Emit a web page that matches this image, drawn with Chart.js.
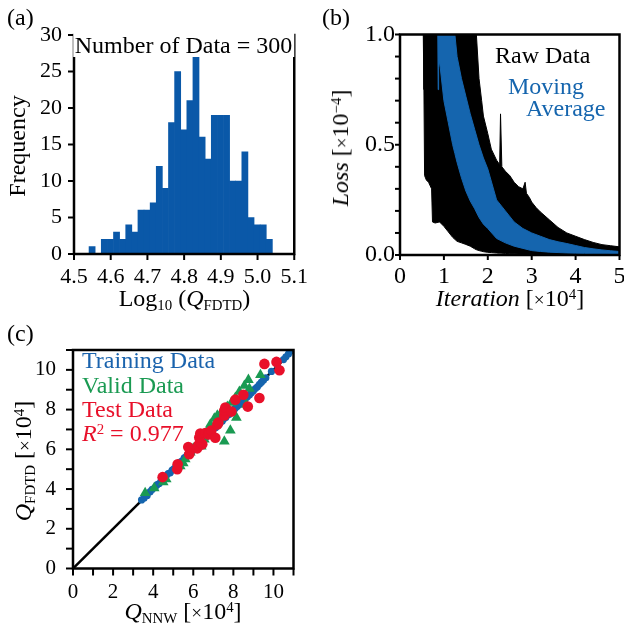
<!DOCTYPE html>
<html>
<head>
<meta charset="utf-8">
<script src="https://cdn.jsdelivr.net/npm/chart.js@4.4.1/dist/chart.umd.min.js"></script>
<style>
html, body { margin: 0; padding: 0; background: #fff; overflow: hidden; }
body { width: 624px; height: 632px; position: relative; }
.box { position: absolute; }
.box canvas { display: block; }
.t { position: absolute; font-family: 'Liberation Serif', 'Times New Roman', serif; font-size: 24px;
     line-height: 1; white-space: nowrap; color: #000; pointer-events: none; }
.c { transform: translateX(-50%); }
.r { transform: translate(-50%, -50%) rotate(-90deg); }
.sub { font-size: 0.62em; position: relative; top: 0.28em; }
.sup { font-size: 0.62em; position: relative; top: -0.5em; }
.x { font-size: 0.8em; }
</style>
</head>
<body>
<div class="box" style="left:0;top:0"><canvas id="histChart" width="312" height="300"></canvas></div>
<div class="box" style="left:312px;top:0"><canvas id="lossChart" width="320" height="300"></canvas></div>
<div class="box" style="left:0;top:310px"><canvas id="scatterChart" width="320" height="322"></canvas></div>

<div class="t" style="left:7px;top:5px">(a)</div>
<div class="t" style="left:322px;top:5px">(b)</div>
<div class="t" style="left:7px;top:321px">(c)</div>

<div class="t c" style="left:183.5px;top:33px;background:#fff;padding:0 2px">Number of Data = 300</div>
<div class="t r" style="left:17px;top:146px">Frequency</div>
<div class="t c" style="left:184.5px;top:286px">Log<span class="sub">10</span> (<i>Q</i><span class="sub">FDTD</span>)</div>

<div class="t" style="left:495px;top:43px">Raw Data</div>
<div class="t" style="left:508px;top:74px;color:#1565ae">Moving</div>
<div class="t" style="left:526px;top:96px;color:#1565ae">Average</div>
<div class="t r" style="left:339.5px;top:148px"><i>Loss</i> [<span class="x">×</span>10<span class="sup">−4</span>]</div>
<div class="t c" style="left:510px;top:286px"><i>Iteration</i> [<span class="x">×</span>10<span class="sup">4</span>]</div>

<div class="t" style="left:82px;top:348px;color:#1a63ad">Training Data</div>
<div class="t" style="left:82px;top:373px;color:#1a9a52">Valid Data</div>
<div class="t" style="left:82px;top:396.5px;color:#e8102a">Test Data</div>
<div class="t" style="left:82px;top:421px;color:#e8102a"><i>R</i><span class="sup">2</span> = 0.977</div>
<div class="t r" style="left:23px;top:461px"><i>Q</i><span class="sub">FDTD</span> [<span class="x">×</span>10<span class="sup">4</span>]</div>
<div class="t c" style="left:183px;top:599px"><i>Q</i><span class="sub">NNW</span> [<span class="x">×</span>10<span class="sup">4</span>]</div>

<script>
// (a) histogram of log10(Q_FDTD), 30 bins
const binCenters = [4.5493, 4.5659, 4.5826, 4.5992, 4.6159, 4.6325, 4.6492, 4.6658, 4.6825, 4.6991,
                    4.7158, 4.7324, 4.7491, 4.7657, 4.7824, 4.7990, 4.8157, 4.8323, 4.8490, 4.8656,
                    4.8823, 4.8989, 4.9156, 4.9322, 4.9489, 4.9655, 4.9822, 4.9988, 5.0155, 5.0321];
const binCounts = [1, 0, 2, 2, 3, 2, 4, 3, 6, 6,
                   7, 12, 9, 18, 25, 17, 21, 27, 16, 13,
                   19, 19, 19, 10, 10, 14, 5, 4, 4, 2];

// (b) loss vs iteration [x1e4], envelopes of the raw and moving-average traces [x1e-4]
const iterRaw = [0.53, 0.545, 0.56, 0.60, 0.65, 0.72, 0.74, 0.80, 0.90, 1.00, 1.10, 1.20, 1.30, 1.40, 1.50, 1.60, 1.70, 1.74,
                 1.80, 1.86, 1.90, 2.00, 2.08, 2.20, 2.27, 2.29, 2.32, 2.40, 2.50, 2.60, 2.70, 2.80, 2.85, 2.88, 2.95,
                 3.00, 3.10, 3.20, 3.40, 3.60, 3.80, 4.00, 4.20, 4.40, 4.60, 4.80, 5.00];
const rawHigh = [1, 1, 1, 1, 1, 1, 1, 1, 1, 1, 1, 1, 1, 1, 1, 1, 1, 1,
                 0.80, 0.70, 0.63, 0.55, 0.48, 0.43, 0.41, 0.64, 0.40, 0.38, 0.36, 0.33, 0.31, 0.30, 0.33, 0.28, 0.26,
                 0.24, 0.215, 0.195, 0.16, 0.125, 0.10, 0.085, 0.07, 0.057, 0.047, 0.042, 0.037];
const rawLow = [1, 0.75, 0.36, 0.34, 0.33, 0.30, 0.15, 0.145, 0.15, 0.13, 0.105, 0.08, 0.062, 0.055, 0.048, 0.04, 0.028, 0.024,
                0.02, 0.017, 0.015, 0.012, 0.011, 0.009, 0.008, 0.008, 0.008, 0.007, 0.006, 0.006, 0.005, 0.005, 0.005, 0.005, 0.005,
                0.004, 0.004, 0.004, 0.004, 0.003, 0.003, 0.003, 0.003, 0.003, 0.003, 0.003, 0.003];
const iterAvg = [0.86, 0.87, 0.88, 0.90, 1.00, 1.10, 1.20, 1.25, 1.30, 1.40, 1.50, 1.60, 1.70, 1.80, 1.90, 2.00,
                 2.20, 2.40, 2.60, 2.80, 3.00, 3.20, 3.40, 3.60, 3.80, 4.00, 4.20, 4.40, 4.60, 4.80, 5.00];
const avgHigh = [1, 1, 1, 1, 1, 1, 1, 1, 0.90, 0.80, 0.72, 0.64, 0.57, 0.50, 0.44, 0.39,
                 0.25, 0.20, 0.15, 0.12, 0.10, 0.085, 0.07, 0.06, 0.052, 0.043, 0.034, 0.028, 0.023, 0.019, 0.016];
const avgLow = [1, 0.75, 0.85, 0.88, 0.70, 0.60, 0.50, 0.46, 0.42, 0.35, 0.29, 0.245, 0.21, 0.17, 0.14, 0.12,
                0.075, 0.055, 0.04, 0.03, 0.02, 0.016, 0.013, 0.011, 0.009, 0.008, 0.007, 0.006, 0.006, 0.005, 0.005];

// (c) Q_NNW vs Q_FDTD [x1e4]
const trainingPoints = [[3.42, 3.45], [3.55, 3.55], [3.7, 3.68], [3.85, 3.87], [3.95, 3.98], [4.1, 4.08], [4.2, 4.22],
  [4.3, 4.28], [4.4, 4.42], [4.55, 4.52], [4.65, 4.66], [4.75, 4.78], [4.85, 4.82], [4.95, 4.96], [5.05, 5.03],
  [5.15, 5.17], [5.25, 5.22], [5.35, 5.36], [5.45, 5.42], [5.55, 5.57], [5.62, 5.6], [5.7, 5.72], [5.8, 5.78],
  [5.88, 5.9], [5.95, 5.93], [6.05, 6.07], [6.12, 6.1], [6.2, 6.22], [6.3, 6.27], [6.38, 6.4], [6.45, 6.43],
  [6.55, 6.56], [6.62, 6.6], [6.7, 6.72], [6.8, 6.77], [6.88, 6.9], [6.95, 6.93], [7.05, 7.06], [7.12, 7.1],
  [7.2, 7.22], [7.3, 7.27], [7.38, 7.4], [7.45, 7.43], [7.55, 7.56], [7.62, 7.6], [7.7, 7.72], [7.8, 7.77],
  [7.88, 7.86], [7.95, 7.93], [8.05, 8.02], [8.12, 8.1], [8.2, 8.17], [8.3, 8.26], [8.38, 8.35], [8.45, 8.4],
  [8.55, 8.5], [8.62, 8.58], [8.7, 8.65], [8.8, 8.74], [8.9, 8.85], [9.0, 8.95], [9.1, 9.06], [9.2, 9.15],
  [9.3, 9.27], [9.4, 9.38], [9.5, 9.48], [9.62, 9.6], [9.9, 9.92], [10.2, 10.22], [10.5, 10.52],
  [10.62, 10.66], [10.75, 10.8], [10.88, 10.95]];
const validPoints = [[3.6, 3.8], [4.05, 4.05], [4.5, 4.35], [4.65, 4.5], [5.35, 5.15], [5.5, 5.3], [5.6, 5.5],
  [5.85, 5.85], [6.0, 6.05], [6.2, 6.25], [6.4, 6.15], [6.55, 6.5], [6.7, 6.9], [6.85, 7.25], [7.05, 7.55],
  [7.2, 7.7], [7.3, 7.5], [7.45, 7.95], [7.55, 6.4], [7.7, 8.15], [7.85, 6.95], [7.9, 8.35], [8.1, 8.6],
  [8.15, 7.6], [8.3, 8.9], [8.55, 9.2], [8.65, 8.25], [8.75, 9.5], [8.8, 9.05], [9.35, 9.75]];
const testPoints = [[4.47, 4.6], [5.2, 5.0], [5.22, 5.25], [5.8, 5.75], [5.85, 5.95], [5.75, 6.12], [6.2, 6.05],
  [6.25, 6.2], [6.45, 6.25], [6.35, 6.35], [6.3, 6.6], [6.35, 6.8], [6.6, 6.82], [6.75, 6.75], [6.8, 6.85],
  [6.9, 6.95], [7.1, 6.58], [7.2, 7.25], [7.25, 7.35], [7.55, 7.7], [7.55, 7.95], [7.6, 8.1], [7.9, 7.9],
  [8.1, 8.5], [8.5, 8.75], [8.72, 8.15], [9.3, 8.58], [9.55, 10.3], [10.15, 10.4], [10.3, 9.98]];
const diagonal = [[0, 0], [11, 11]];

const serif = "'Liberation Serif', 'Times New Roman', serif";

// box round the plot area plus outward tick marks ([x, y] lengths per canvas)
const tickLen = { histChart: [6, 6], lossChart: [5, 5], scatterChart: [7, 7] };
const framePlugin = {
  id: 'frame',
  afterDraw(chart) {
    const ctx = chart.ctx;
    const a = chart.chartArea;
    const len = tickLen[chart.canvas.id];
    ctx.save();
    ctx.strokeStyle = '#000';
    ctx.lineWidth = 2;
    ctx.lineCap = 'butt';
    for (const key of ['x', 'y']) {
      const s = chart.scales[key];
      for (const t of s.ticks) {
        const p = s.getPixelForValue(t.value);
        ctx.beginPath();
        if (key === 'x') {
          ctx.moveTo(p, a.bottom);
          ctx.lineTo(p, a.bottom + len[0]);
        } else {
          ctx.moveTo(a.left, p);
          ctx.lineTo(a.left - len[1], p);
        }
        ctx.stroke();
      }
    }
    ctx.lineWidth = 2.5;
    ctx.strokeRect(a.left, a.top, a.right - a.left, a.bottom - a.top);
    ctx.restore();
  }
};

function axis(opts) {
  return {
    type: 'linear',
    min: opts.min,
    max: opts.max,
    offset: false,
    border: { display: false },
    grid: { display: false, drawOnChartArea: false, drawTicks: true, tickLength: opts.tick },
    ticks: {
      stepSize: opts.step,
      autoSkip: false,
      maxRotation: 0,
      color: '#000',
      padding: opts.pad,
      font: { family: serif, size: opts.size },
      callback: opts.label
    },
    afterFit: opts.fit
  };
}

const quiet = { legend: { display: false }, tooltip: { enabled: false } };

new Chart(document.getElementById('histChart'), {
  type: 'bar',
  data: {
    datasets: [{
      data: binCenters.map((x, i) => ({ x: x, y: binCounts[i] })),
      backgroundColor: '#0a58a8',
      borderWidth: 0,
      barPercentage: 1,
      categoryPercentage: 1
    }]
  },
  options: {
    responsive: false,
    animation: false,
    plugins: quiet,
    layout: { padding: { left: 0, right: 17, top: 35, bottom: 0 } },
    scales: {
      x: axis({ min: 4.5, max: 5.1, step: 0.1, tick: 6, pad: 4, size: 22,
                label: v => v.toFixed(1), fit: s => { s.height = 46; } }),
      y: axis({ min: 0, max: 30, step: 5, tick: 6, pad: 6, size: 22,
                label: v => String(v), fit: s => { s.width = 74; } })
    }
  },
  plugins: [framePlugin]
});

const toXY = (xs, ys) => xs.map((x, i) => ({ x: x, y: ys[i] }));
const band = (xs, ys, color, fill) => ({
  data: toXY(xs, ys),
  borderColor: color,
  backgroundColor: color,
  borderWidth: 1,
  pointRadius: 0,
  tension: 0,
  fill: fill
});

new Chart(document.getElementById('lossChart'), {
  type: 'line',
  data: {
    datasets: [
      band(iterAvg, avgHigh, '#1565ae', false),
      band(iterAvg, avgLow, '#1565ae', '-1'),
      band(iterRaw, rawHigh, '#000', false),
      band(iterRaw, rawLow, '#000', '-1')
    ]
  },
  options: {
    responsive: false,
    animation: false,
    plugins: quiet,
    layout: { padding: { left: 0, right: 12.5, top: 34.5, bottom: 0 } },
    scales: {
      x: axis({ min: 0, max: 5, step: 1, tick: 6, pad: 1, size: 24,
                label: v => String(v), fit: s => { s.height = 45; } }),
      y: axis({ min: 0, max: 1, step: 0.1, tick: 5, pad: 0, size: 24,
                label: v => (Math.abs(v * 2 - Math.round(v * 2)) < 1e-6 ? v.toFixed(1) : ''),
                fit: s => { s.width = 88; } })
    }
  },
  plugins: [framePlugin]
});

const pts = list => list.map(p => ({ x: p[0], y: p[1] }));

new Chart(document.getElementById('scatterChart'), {
  type: 'scatter',
  data: {
    datasets: [
      { data: pts(testPoints), backgroundColor: '#e8102a', borderWidth: 0, pointRadius: 5.3 },
      { data: pts(validPoints), backgroundColor: '#1a9a52', borderWidth: 0, pointRadius: 6.2, pointStyle: 'triangle' },
      { data: pts(trainingPoints), backgroundColor: '#1565ae', borderWidth: 0, pointRadius: 3.6 },
      { data: pts(diagonal), showLine: true, borderColor: '#000', borderWidth: 2.5, pointRadius: 0 }
    ]
  },
  options: {
    responsive: false,
    animation: false,
    plugins: quiet,
    layout: { padding: { left: 0, right: 26.5, top: 40, bottom: 0 } },
    scales: {
      x: axis({ min: 0, max: 11, step: 1, tick: 7, pad: 4, size: 21,
                label: v => (v % 2 === 0 ? String(v) : ''), fit: s => { s.height = 63.5; } }),
      y: axis({ min: 0, max: 11, step: 1, tick: 7, pad: 10, size: 21,
                label: v => (v % 2 === 0 ? String(v) : ''), fit: s => { s.width = 73; } })
    }
  },
  plugins: [framePlugin]
});
</script>
</body>
</html>
